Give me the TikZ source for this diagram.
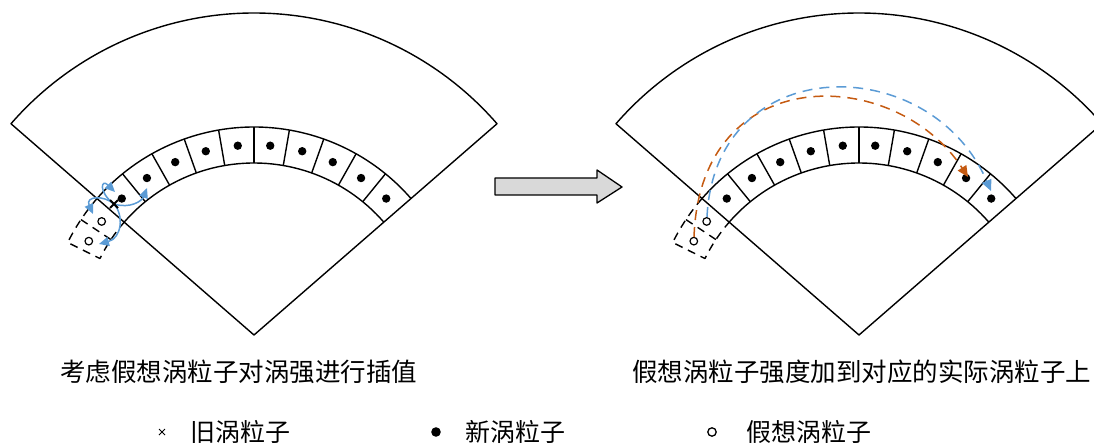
\documentclass[tikz,border=0pt]{standalone}
\usepackage{fontspec}
\newfontfamily\cjk{Noto Sans CJK SC}
\usetikzlibrary{arrows.meta}
\definecolor{myblue}{HTML}{5B9BD5}
\definecolor{myorange}{HTML}{C55A11}
\definecolor{arrowgray}{HTML}{D9D9D9}
\begin{document}
\begin{tikzpicture}[x=1pt,y=-1pt,line join=round,
  fanline/.style={line width=1.4pt},
  ghostline/.style={line width=1.4pt,dash pattern=on 8pt off 6pt},
  ghostdot/.style={draw=black,fill=white,line width=1.2pt},
  bluearr/.style={myblue,line width=1.5pt,-{Triangle[length=10pt,width=9pt]}},
  bluedash/.style={myblue,line width=1.5pt,dash pattern=on 10pt off 7pt,-{Triangle[length=11pt,width=10pt]}},
  orangedash/.style={myorange,line width=1.5pt,dash pattern=on 10pt off 7pt,-{Triangle[length=11pt,width=10pt]}},
  captext/.style={anchor=west,inner sep=0pt,font=\cjk\fontsize{25.5}{30}\selectfont},
  legtext/.style={anchor=west,inner sep=0pt,font=\cjk\fontsize{25}{30}\selectfont}]
\useasboundingbox (0,0) rectangle (1094,446);
\clip (0,0) rectangle (1094,446);

\foreach \cx in {254,859} {
  \begin{scope}[shift={(\cx,335)}]
    \draw[fanline] (0,0) -- (-41:322) arc[start angle=-41,end angle=-139,radius=322] -- cycle;
    \draw[fanline] (-41:208) arc[start angle=-41,end angle=-139,radius=208];
    \draw[fanline] (-41:172) arc[start angle=-41,end angle=-139,radius=172];
    \foreach \k in {1,...,9} \draw[fanline] ({-41-9.8*\k}:172) -- ({-41-9.8*\k}:208);
    \foreach \k in {0,...,9} \fill ({-45.9-9.8*\k}:190) circle[radius=4.2];
    \draw[ghostline] (-139:208) arc[start angle=-139,end angle=-153.6,radius=208]
      -- (-153.6:172) arc[start angle=-153.6,end angle=-139,radius=172];
    \draw[ghostline] (-146.3:208) -- (-146.3:172);
    \draw[ghostdot] (-143.3:190) circle[radius=3.8];
    \draw[ghostdot] (-150.4:190) circle[radius=3.8];
  \end{scope}
}

% old particle
\coordinate (X) at (114,204);
\coordinate (t1) at (115,192);
\coordinate (t2) at (147,188);
\coordinate (t3) at (93,214);
\coordinate (t4) at (99,244);
\draw[bluearr] (X) .. controls (98,192) and (101,178) .. (t1);
\draw[bluearr] (X) .. controls (130,209) and (142,201) .. (t2);
\draw[bluearr] (X) .. controls (104,195) and (85,196) .. (t3);
\draw[bluearr] (X) .. controls (124,215) and (122,238) .. (t4);
\draw[line width=1.8pt] (110,200) -- (118,208) (110,208) -- (118,200);

% right dashed arrows
\coordinate (g2) at (694,237);
\coordinate (g1) at (707,217);
\coordinate (r1) at (968,177);
\coordinate (r2) at (991,191);
\draw[orangedash] (g2) .. controls (700,60) and (895,65) .. (r1);
\draw[bluedash] (g1) .. controls (715,50) and (930,50) .. (r2);

% block arrow
\draw[line width=1.3pt,fill=arrowgray] (495,178) -- (597,178) -- (597,170) -- (622,187)
  -- (597,203) -- (597,195) -- (495,195) -- cycle;

% captions
\node[captext] (cap1) at (60,372) {考虑假想涡粒子对涡强进行插值};
\node[captext] (cap2) at (632,372) {假想涡粒子强度加到对应的实际涡粒子上};

% legend
\draw[line width=1pt] (159,429) -- (165,435) (159,435) -- (165,429);
\node[legtext] (l1) at (190,432) {旧涡粒子};
\fill (436,432) circle[radius=4.8];
\node[legtext] (l2) at (465,432) {新涡粒子};
\draw[line width=1.3pt] (712,432) circle[radius=4.2];
\node[legtext] (l3) at (746,432) {假想涡粒子};
\end{tikzpicture}
\end{document}
